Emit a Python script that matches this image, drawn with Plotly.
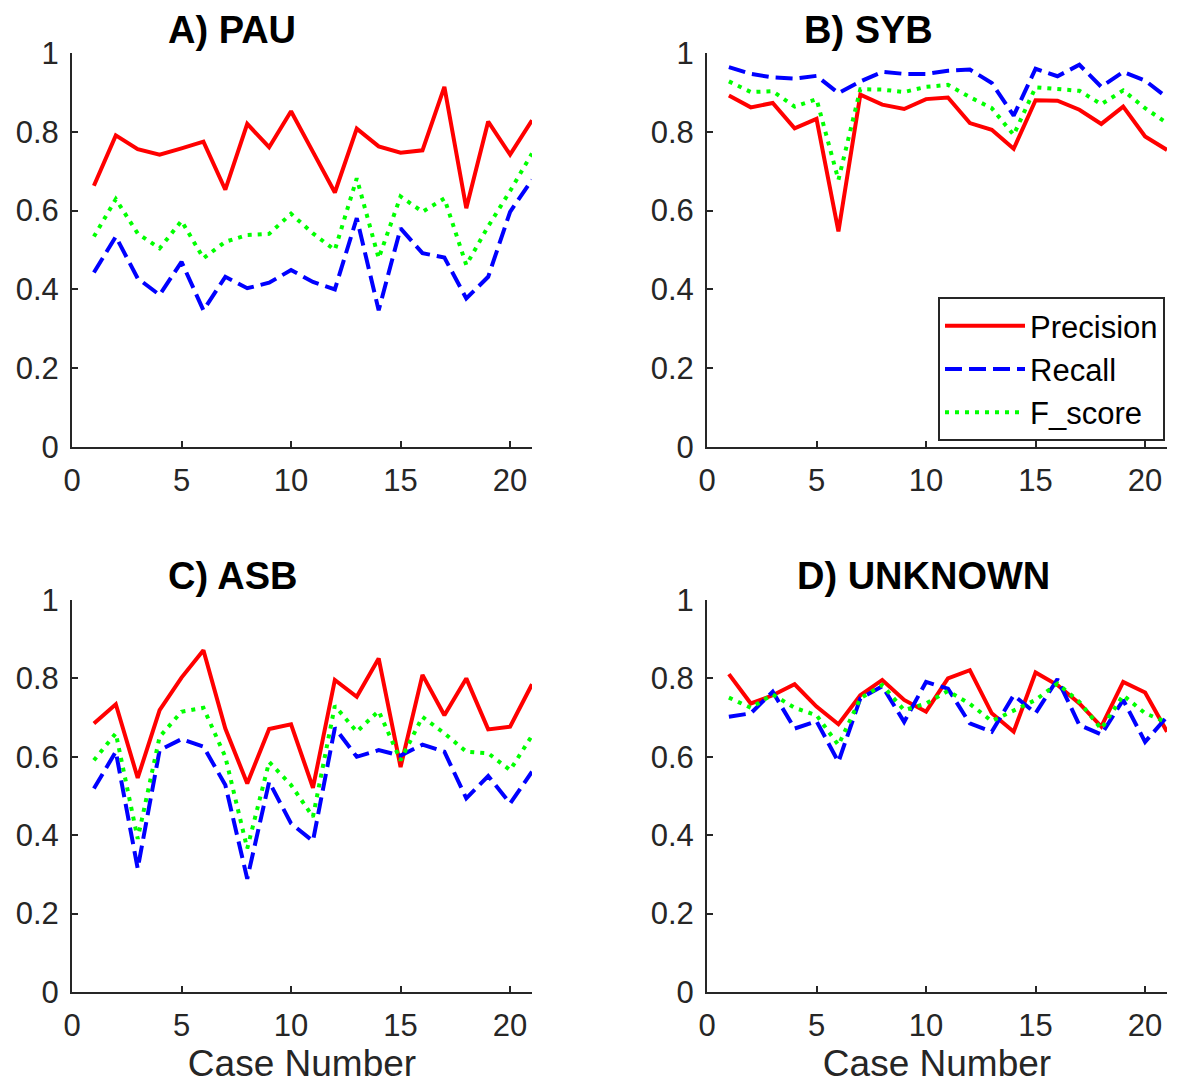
import plotly.graph_objects as go

cases = list(range(1, 22))

pau_precision = [0.663, 0.791, 0.756, 0.742, 0.758, 0.775, 0.653, 0.820, 0.761, 0.852, 0.749,
                 0.646, 0.808, 0.763, 0.747, 0.753, 0.914, 0.606, 0.826, 0.742, 0.829]
pau_recall = [0.443, 0.534, 0.428, 0.386, 0.470, 0.347, 0.432, 0.403, 0.417, 0.449, 0.419,
              0.400, 0.581, 0.347, 0.555, 0.492, 0.481, 0.377, 0.432, 0.597, 0.678]
pau_fscore = [0.534, 0.629, 0.542, 0.504, 0.574, 0.479, 0.521, 0.538, 0.541, 0.592, 0.542,
              0.500, 0.682, 0.479, 0.636, 0.597, 0.631, 0.462, 0.560, 0.650, 0.745]

syb_precision = [0.892, 0.862, 0.873, 0.809, 0.833, 0.547, 0.894, 0.869, 0.858, 0.883, 0.887,
                 0.822, 0.805, 0.757, 0.880, 0.879, 0.856, 0.820, 0.864, 0.788, 0.754]
syb_recall = [0.964, 0.947, 0.938, 0.935, 0.942, 0.898, 0.928, 0.952, 0.947, 0.947, 0.955,
              0.958, 0.924, 0.841, 0.960, 0.941, 0.970, 0.914, 0.952, 0.930, 0.887]
syb_fscore = [0.928, 0.901, 0.903, 0.864, 0.883, 0.678, 0.908, 0.907, 0.901, 0.914, 0.919,
              0.888, 0.860, 0.792, 0.913, 0.908, 0.904, 0.870, 0.905, 0.860, 0.822]

asb_precision = [0.685, 0.734, 0.546, 0.719, 0.802, 0.872, 0.672, 0.532, 0.671, 0.683, 0.521,
                 0.796, 0.753, 0.851, 0.574, 0.809, 0.706, 0.800, 0.670, 0.677, 0.785]
asb_recall = [0.519, 0.613, 0.315, 0.617, 0.645, 0.626, 0.528, 0.289, 0.536, 0.430, 0.385,
              0.674, 0.600, 0.617, 0.603, 0.631, 0.613, 0.494, 0.551, 0.481, 0.562]
asb_fscore = [0.591, 0.660, 0.391, 0.651, 0.715, 0.725, 0.600, 0.366, 0.587, 0.528, 0.447,
              0.730, 0.664, 0.717, 0.591, 0.702, 0.660, 0.613, 0.609, 0.566, 0.654]

unk_precision = [0.811, 0.736, 0.757, 0.785, 0.728, 0.683, 0.757, 0.796, 0.745, 0.715, 0.800,
                 0.821, 0.711, 0.664, 0.815, 0.783, 0.736, 0.677, 0.791, 0.764, 0.664]
unk_recall = [0.702, 0.711, 0.766, 0.672, 0.691, 0.587, 0.749, 0.780, 0.689, 0.791, 0.774,
              0.685, 0.664, 0.757, 0.711, 0.798, 0.681, 0.657, 0.745, 0.638, 0.702]
unk_fscore = [0.751, 0.725, 0.759, 0.725, 0.706, 0.630, 0.749, 0.783, 0.719, 0.736, 0.768,
              0.735, 0.691, 0.717, 0.745, 0.787, 0.740, 0.671, 0.757, 0.711, 0.688]

panel_titles = ["A) PAU", "B) SYB", "C) ASB", "D) UNKNOWN"]
series_names = ["Precision", "Recall", "F_score"]
x_ticks = [0, 5, 10, 15, 20]
y_ticks = [0, 0.2, 0.4, 0.6, 0.8, 1]
y_tick_text = ["0", "0.2", "0.4", "0.6", "0.8", "1"]

panels = [
    (pau_precision, pau_recall, pau_fscore),
    (syb_precision, syb_recall, syb_fscore),
    (asb_precision, asb_recall, asb_fscore),
    (unk_precision, unk_recall, unk_fscore),
]

W, H = 1196, 1089
FONT = "Liberation Sans, Arial, sans-serif"
AX = "#262626"

# pixel layout of plot areas (left, right, top, bottom)
boxes = [(72, 532, 53, 447), (707, 1167, 53, 447),
         (72, 532, 600, 992), (707, 1167, 600, 992)]

styles = [
    dict(color="#FF0000", width=4, dash="solid"),
    dict(color="#0000FF", width=4, dash="17px,7px"),
    dict(color="#00FF00", width=4, dash="4px,6px"),
]

fig = go.Figure()
for i, vals in enumerate(panels):
    xa = "x" if i == 0 else f"x{i+1}"
    ya = "y" if i == 0 else f"y{i+1}"
    for j, v in enumerate(vals):
        fig.add_trace(go.Scatter(
            x=cases, y=v, mode="lines", name=series_names[j],
            line=styles[j], xaxis=xa, yaxis=ya,
            showlegend=(i == 1), legendgroup=series_names[j]))

layout = dict(
    template="none",
    width=W, height=H, margin=dict(l=0, r=0, t=0, b=0, autoexpand=False),
    paper_bgcolor="white", plot_bgcolor="white",
    font=dict(family=FONT, color=AX),
    legend=dict(x=938 / W, y=1 - 297 / H, xanchor="left", yanchor="top",
                bgcolor="white", bordercolor="#262626", borderwidth=2,
                font=dict(size=31, color="black", family=FONT),
                itemwidth=80, tracegroupgap=0),
)

annotations = []
title_pos = [(232, 30), (868, 30), (232, 576), (923, 576)]
for i, (l, r, t, b) in enumerate(boxes):
    sx = "" if i == 0 else str(i + 1)
    layout[f"xaxis{sx}"] = dict(
        domain=[l / W, r / W], anchor=f"y{sx}", range=[0, 21], automargin=False,
        tickvals=x_ticks, ticks="inside", ticklen=6, tickwidth=2, tickcolor=AX,
        showline=True, linewidth=2, linecolor=AX, showgrid=False, zeroline=False,
        tickfont=dict(size=31, color=AX, family=FONT), ticklabelstandoff=5,
        title=dict(text="Case Number" if i >= 2 else "",
                   font=dict(size=37, color=AX, family=FONT), standoff=6),
    )
    layout[f"yaxis{sx}"] = dict(
        domain=[1 - b / H, 1 - t / H], anchor=f"x{sx}", range=[0, 1], automargin=False,
        tickvals=y_ticks, ticktext=y_tick_text, ticks="inside", ticklen=6,
        tickwidth=2, tickcolor=AX,
        showline=True, linewidth=2, linecolor=AX, showgrid=False, zeroline=False,
        tickfont=dict(size=31, color=AX, family=FONT), ticklabelstandoff=5,
    )
    tx, ty = title_pos[i]
    annotations.append(dict(
        text=f"<b>{panel_titles[i]}</b>", x=tx / W, y=1 - ty / H,
        xref="paper", yref="paper", xanchor="center", yanchor="middle",
        showarrow=False, font=dict(size=38, color="black", family=FONT)))

layout["annotations"] = annotations
fig.update_layout(**layout)
fig.write_html("out.html")
